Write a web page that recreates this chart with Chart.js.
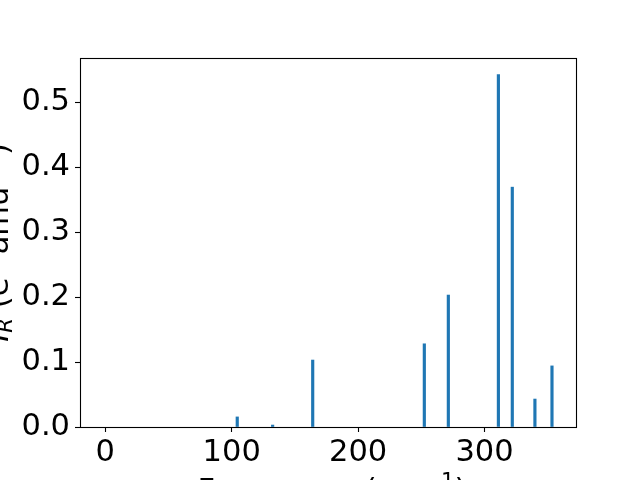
<!DOCTYPE html>
<html>
<head>
<meta charset="utf-8">
<script src="https://cdn.jsdelivr.net/npm/chart.js@4/dist/chart.umd.min.js"></script>
<style>
html,body{margin:0;padding:0;background:#fff;overflow:hidden}
#wrap{position:relative;width:640px;height:480px}
</style>
</head>
<body>
<div id="wrap"><canvas id="c" width="640" height="480"></canvas></div>
<script>
// ---- data ----
const frequencies = [104.4, 132.4, 164.1, 252.4, 271.4, 311.0, 322.0, 339.9, 353.4];
const intensities = [0.0155, 0.003, 0.103, 0.128, 0.203, 0.542, 0.369, 0.043, 0.094];
const xTicks = [0, 100, 200, 300];
const yTicks = [0.0, 0.1, 0.2, 0.3, 0.4, 0.5];
const xLabelRuns = [
  {t: 'Frequency (cm'},
  {t: '\u22121', sup: true},
  {t: ')'}
];
const yLabelRuns = [
  {t: 'I', it: true},
  {t: 'R', it: true, sub: true},
  {t: ' (e'},
  {t: '2', sup: true},
  {t: ' amu'},
  {t: '\u22121', sup: true},
  {t: ')'}
];

const FONT = 'DejaVu Sans';
const FS = 30.5;

function runsWidth(ctx, runs) {
  let w = 0;
  for (const r of runs) {
    const size = (r.sup || r.sub) ? FS * 0.7 : FS;
    ctx.font = (r.it ? 'italic ' : '') + size + 'px "' + FONT + '"';
    w += ctx.measureText(r.t).width;
  }
  return w;
}

function drawRuns(ctx, runs, x, y) {
  let cx = x;
  for (const r of runs) {
    const size = (r.sup || r.sub) ? FS * 0.7 : FS;
    ctx.font = (r.it ? 'italic ' : '') + size + 'px "' + FONT + '"';
    let dy = 0;
    if (r.sup) dy = -11.6;
    if (r.sub) dy = 4.5;
    ctx.fillText(r.t, cx, y + dy);
    cx += ctx.measureText(r.t).width;
  }
}

const labelPlugin = {
  id: 'labels',
  afterDatasetsDraw(chart) {
    const ctx = chart.ctx;
    const a = chart.chartArea;
    ctx.save();
    ctx.strokeStyle = '#000';
    ctx.lineWidth = 1.1;
    ctx.strokeRect(Math.round(a.left) + 0.5, Math.round(a.top) + 0.5,
                   Math.round(a.right - a.left), Math.round(a.bottom - a.top));
    ctx.restore();
  },
  afterDraw(chart) {
    const ctx = chart.ctx;
    const a = chart.chartArea;
    ctx.save();
    ctx.fillStyle = '#000';
    ctx.textBaseline = 'alphabetic';
    ctx.textAlign = 'left';
    const xw = runsWidth(ctx, xLabelRuns);
    drawRuns(ctx, xLabelRuns, (a.left + a.right) / 2 + 4 - xw / 2, 500);
    const yw = runsWidth(ctx, yLabelRuns);
    ctx.translate(7.5, (a.top + a.bottom) / 2);
    ctx.rotate(-Math.PI / 2);
    drawRuns(ctx, yLabelRuns, -yw / 2, 0);
    ctx.restore();
  }
};

new Chart(document.getElementById('c'), {
  type: 'bar',
  data: {
    datasets: [{
      data: frequencies.map((f, i) => ({x: f, y: intensities[i]})),
      backgroundColor: '#1f77b4',
      borderWidth: 0,
      barThickness: 2.5
    }]
  },
  options: {
    responsive: false,
    animation: false,
    devicePixelRatio: 1,
    plugins: {legend: {display: false}, tooltip: {enabled: false}},
    layout: {padding: {left: 0, top: 58, right: 64, bottom: 0}},
    scales: {
      x: {
        type: 'linear',
        min: -20,
        max: 372.4,
        offset: false,
        afterBuildTicks: s => { s.ticks = xTicks.map(v => ({value: v})); },
        afterFit: s => { s.height = 53; },
        grid: {display: true, drawOnChartArea: false, drawTicks: true, tickLength: 5,
               tickColor: '#000', tickWidth: 1.1, offset: false},
        border: {display: false},
        ticks: {color: '#000', font: {family: FONT, size: FS}, padding: 3,
                maxRotation: 0, autoSkip: false, callback: v => String(v)}
      },
      y: {
        type: 'linear',
        min: 0,
        max: 0.5677,
        afterBuildTicks: s => { s.ticks = yTicks.map(v => ({value: v})); },
        afterFit: s => { s.width = 80; },
        grid: {display: true, drawOnChartArea: false, drawTicks: true, tickLength: 5,
               tickColor: '#000', tickWidth: 1.1},
        border: {display: false},
        ticks: {color: '#000', font: {family: FONT, size: FS}, padding: 5,
                autoSkip: false, callback: v => v.toFixed(1)}
      }
    }
  },
  plugins: [labelPlugin]
});
</script>
</body>
</html>
